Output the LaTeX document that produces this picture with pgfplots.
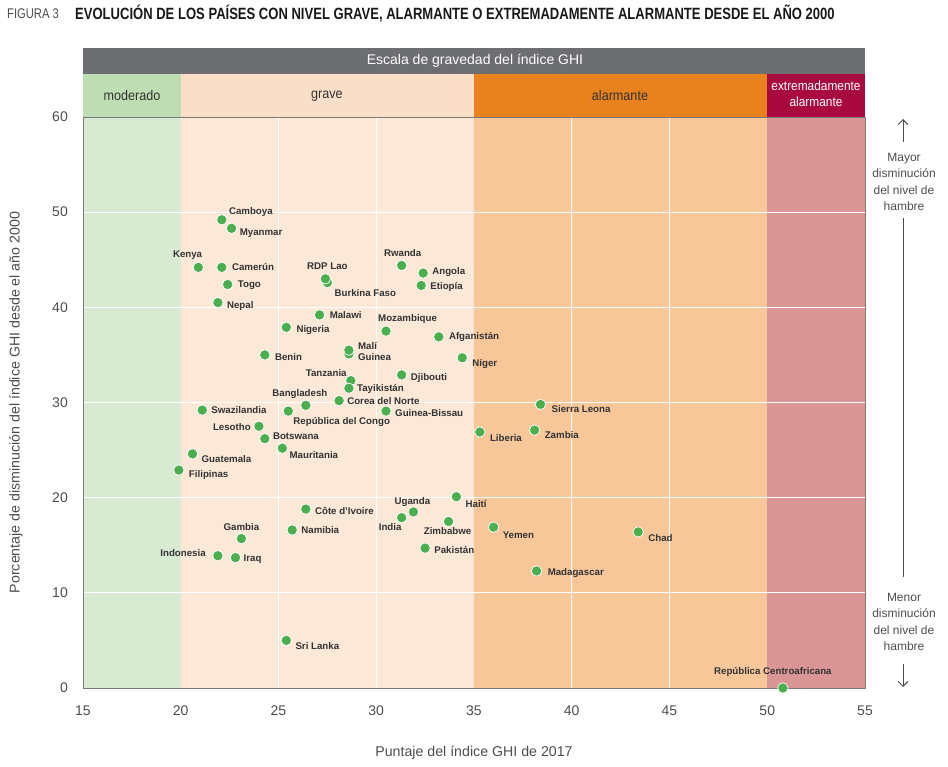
\documentclass[border=0pt]{standalone}
\usepackage{pgfplots}
\pgfplotsset{compat=1.18}
\usepackage{pgfplotstable}
\usepackage{fontspec}
\setmainfont{Liberation Sans}
\newfontfamily\condfont{Liberation Sans}[FakeStretch=0.8]
\newfontfamily\semicond{Liberation Sans}[FakeStretch=0.9]
\usetikzlibrary{arrows.meta}

% severity bands: plot area and header colours
\definecolor{modbg}{HTML}{D8EAD2}
\definecolor{modhd}{HTML}{BFDDB2}
\definecolor{grvbg}{HTML}{FCE8D7}
\definecolor{grvhd}{HTML}{FADFC8}
\definecolor{alabg}{HTML}{F7C79A}
\definecolor{alahd}{HTML}{E8821E}
\definecolor{extbg}{HTML}{DA9596}
\definecolor{exthd}{HTML}{A8093E}
\definecolor{hdgray}{HTML}{6D6E71}
\definecolor{dotgreen}{HTML}{4BAE4F}
\definecolor{lblgray}{HTML}{333333}
\definecolor{txtgray}{HTML}{4D4D4D}
\definecolor{axgray}{HTML}{7A7A7A}

\tikzset{ctry/.style={inner sep=0pt, text=lblgray,
  font=\bfseries\fontsize{9.7}{10}\selectfont}}

% GHI 2017 score, % reduction since 2000, label offset (pt) and anchor
\pgfplotstableread[col sep=comma]{
x,y,dx,dy,anc,label
22.1,49.2,7,8,west,Camboya
22.6,48.3,8,-5,west,Myanmar
20.9,44.2,4,12,east,Kenya
22.1,44.2,10,0,west,Camerún
22.4,42.4,10,-1,west,Togo
21.9,40.5,9,-3,west,Nepal
27.5,42.6,7,-10,west,Burkina Faso
27.4,43.0,2,13,center,RDP Lao
31.3,44.4,1,12,center,Rwanda
32.4,43.6,9,1,west,Angola
32.3,42.3,9,-2,west,Etiopía
27.1,39.2,10,0,west,Malawi
25.4,37.9,10,-3,west,Nigeria
30.5,37.5,-8,12,west,Mozambique
33.2,36.9,10,0,west,Afganistán
24.3,35.0,10,-2,west,Benin
28.6,35.1,9,-3,west,Guinea
28.6,35.5,9,4,west,Malí
34.4,34.7,10,-6,west,Níger
28.7,32.3,-4,8,east,Tanzania
28.6,31.5,8,-1,west,Tayikistán
31.3,32.9,9,-3,west,Djibouti
26.4,29.7,-6,11,center,Bangladesh
28.1,30.2,8,0,west,Corea del Norte
21.1,29.2,9,0,west,Swazilandia
25.5,29.1,5,-11,west,República del Congo
30.5,29.1,9,-2,west,Guinea-Bissau
24.0,27.5,-8,-1,east,Lesotho
24.3,26.2,8,2,west,Botswana
25.2,25.2,7,-7,west,Mauritania
20.6,24.6,9,-5,west,Guatemala
19.9,22.9,10,-5,west,Filipinas
35.3,26.9,10,-6,west,Liberia
38.4,29.8,11,-5,west,Sierra Leona
38.1,27.1,10,-5,west,Zambia
26.4,18.8,9,-2,west,Côte d'Ivoire
25.7,16.6,9,0,west,Namibia
23.1,15.7,0,12,center,Gambia
21.9,13.9,-12,3,east,Indonesia
22.8,13.7,8,-2,west,Iraq
25.4,5.0,9,-6,west,Sri Lanka
34.1,20.1,9,-7,west,Haití
31.9,18.5,-1,10,center,Uganda
31.3,17.9,0,-9,east,India
33.7,17.5,-1,-10,center,Zimbabwe
32.5,14.7,9,-2,west,Pakistán
36.0,16.9,9,-8,west,Yemen
43.4,16.4,10,-6,west,Chad
38.2,12.3,11,-2,west,Madagascar
50.8,0.0,-10,16,center,República Centroafricana
}\ghidata

\begin{document}
\begin{tikzpicture}
\begin{axis}[
  name=main,
  scale only axis, width=782pt, height=571pt,
  xmin=15, xmax=55, ymin=0, ymax=60,
  xtick={15,20,...,55}, ytick={0,10,...,60},
  major tick length=0pt,
  clip=false, set layers,
  axis line style={axgray, line width=0.9pt},
  ymajorgrids,
  extra x ticks={25,30,40,45}, extra x tick labels={},
  extra x tick style={xmajorgrids=true},
  grid style={white, line width=0.9pt},
  /pgf/number format/assume math mode=true,
  yticklabel style={font=\fontsize{14}{14}\selectfont, text=txtgray,
    anchor=east, inner sep=0pt, xshift=-15pt},
  xticklabel style={font=\fontsize{14}{14}\selectfont, text=txtgray,
    anchor=north, inner sep=0pt, yshift=-18pt},
  xlabel={Puntaje del índice GHI de 2017},
  ylabel={Porcentaje de disminución del índice GHI desde el año 2000},
  xlabel style={at={(axis description cs:0.5,-0.1138)}, anchor=center,
    font=\fontsize{14.2}{14.2}\selectfont, text=txtgray},
  ylabel style={at={(axis description cs:-0.0857,0.5)}, anchor=center,
    font=\fontsize{14.2}{14.2}\selectfont, text=txtgray},
]
% severity bands behind the grid
\addplot[draw=none, fill=modbg, on layer=axis background] coordinates {(15,60) (20,60)} \closedcycle;
\addplot[draw=none, fill=grvbg, on layer=axis background] coordinates {(20,60) (35,60)} \closedcycle;
\addplot[draw=none, fill=alabg, on layer=axis background] coordinates {(35,60) (50,60)} \closedcycle;
\addplot[draw=none, fill=extbg, on layer=axis background] coordinates {(50,60) (55,60)} \closedcycle;

% header strips above the plot
\fill[modhd] (axis cs:15,60) rectangle (axis cs:20,64.52);
\fill[grvhd] (axis cs:20,60) rectangle (axis cs:35,64.52);
\fill[alahd] (axis cs:35,60) rectangle (axis cs:50,64.52);
\fill[exthd] (axis cs:50,60) rectangle (axis cs:55,64.52);
\fill[hdgray] (axis cs:15,64.52) rectangle (axis cs:55,67.25);

% countries
\addplot[only marks, mark=*, mark size=5.2pt,
  mark options={fill=dotgreen, draw=white, line width=0.7pt}]
  table[x=x, y=y] {\ghidata};

% country names, placed from the same table rows
\pgfplotstablegetrowsof{\ghidata}
\pgfmathtruncatemacro\lastrow{\pgfplotsretval-1}
\pgfplotsinvokeforeach{0,...,\lastrow}{%
  \pgfplotstablegetelem{#1}{x}\of\ghidata \let\lx\pgfplotsretval
  \pgfplotstablegetelem{#1}{y}\of\ghidata \let\ly\pgfplotsretval
  \pgfplotstablegetelem{#1}{dx}\of\ghidata \let\ldx\pgfplotsretval
  \pgfplotstablegetelem{#1}{dy}\of\ghidata \let\ldy\pgfplotsretval
  \pgfplotstablegetelem{#1}{anc}\of\ghidata \let\lanc\pgfplotsretval
  \pgfplotstablegetelem{#1}{label}\of\ghidata \let\ltxt\pgfplotsretval
  \edef\lblcmd{\noexpand\node[ctry, anchor=\lanc, xshift=\ldx pt, yshift=\ldy pt]
    at (axis cs:\lx,\ly) {\ltxt};}%
  \lblcmd
}
\end{axis}

% annotations, positioned in a 1pt grid measured from the top-left corner
\begin{scope}[shift={(main.south west)}, shift={(-83pt,688pt)}, x=1pt, y=-1pt]
\path (0,0) rectangle (948,766);
\node[anchor=west, inner sep=0pt, text=txtgray] at (7,14)
  {\condfont\fontsize{14}{14}\selectfont FIGURA 3};
\node[anchor=west, inner sep=0pt, text=black!90] at (75,14)
  {\condfont\bfseries\fontsize{16.3}{16.3}\selectfont EVOLUCIÓN DE LOS PAÍSES CON NIVEL GRAVE, ALARMANTE O EXTREMADAMENTE ALARMANTE DESDE EL AÑO 2000};
\node[text=white, inner sep=0pt] at (475,61)
  {\fontsize{14}{14}\selectfont Escala de gravedad del índice GHI};
\node[text=lblgray, inner sep=0pt] at (132,96) {\semicond\fontsize{14}{14}\selectfont moderado};
\node[text=lblgray, inner sep=0pt] at (327,96) {\semicond\fontsize{14}{14}\selectfont grave};
\node[text=lblgray, inner sep=0pt] at (620,96) {\semicond\fontsize{14}{14}\selectfont alarmante};
\node[text=white, inner sep=0pt, align=center, font={\semicond\fontsize{13.2}{16}\selectfont}]
  at (816,94) {extremadamente\\alarmante};
\node[text=txtgray, align=center, inner sep=0pt, font={\fontsize{12}{16.5}\selectfont}]
  at (904,182) {Mayor\\disminución\\del nivel de\\hambre};
\node[text=txtgray, align=center, inner sep=0pt, font={\fontsize{12}{16.5}\selectfont}]
  at (904,622) {Menor\\disminución\\del nivel de\\hambre};
\draw[txtgray, line width=0.9pt, -{Straight Barb[length=5pt,width=10pt]}] (903,142) -- (903,119);
\draw[txtgray, line width=0.9pt] (903,218) -- (903,577);
\draw[txtgray, line width=0.9pt, -{Straight Barb[length=5pt,width=10pt]}] (903,664) -- (903,687);
\end{scope}
\end{tikzpicture}
\end{document}
